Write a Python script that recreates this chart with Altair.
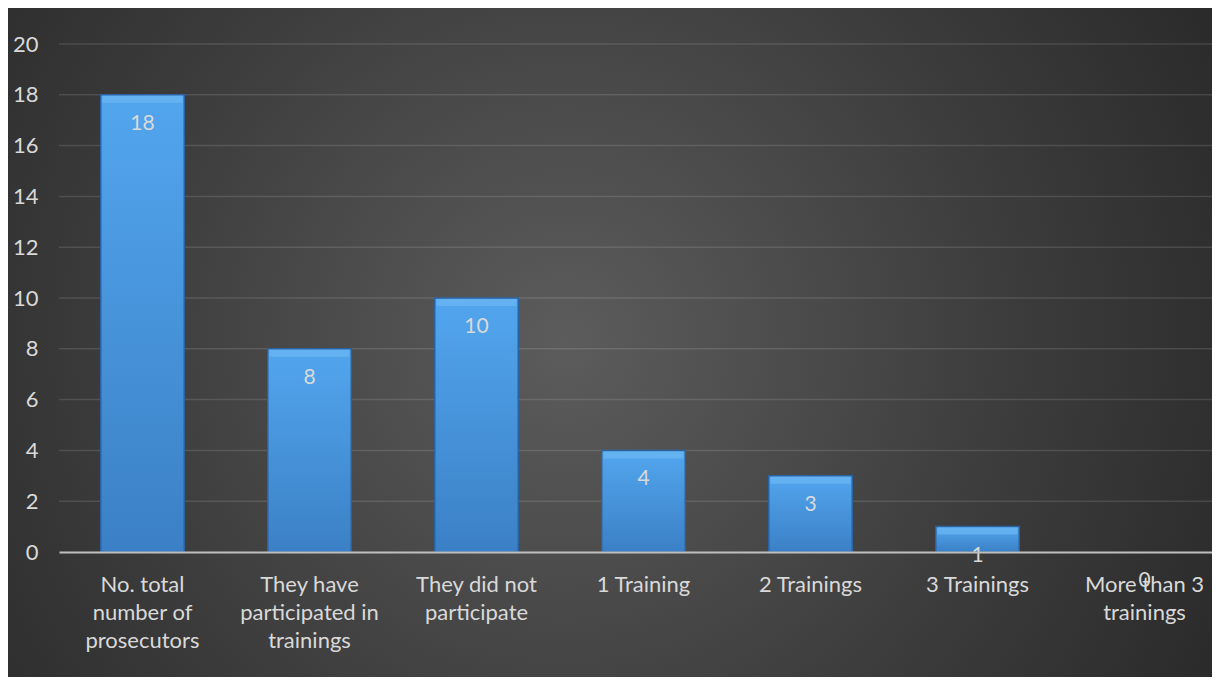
import json
import altair as alt
import pandas as pd

categories = [
    "No. total number of prosecutors",
    "They have participated in trainings",
    "They did not participate",
    "1 Training",
    "2 Trainings",
    "3 Trainings",
    "More than 3 trainings",
]
label_lines = [
    ["No. total", "number of", "prosecutors"],
    ["They have", "participated in", "trainings"],
    ["They did not", "participate"],
    ["1 Training"],
    ["2 Trainings"],
    ["3 Trainings"],
    ["More than 3", "trainings"],
]
values = [18, 8, 10, 4, 3, 1, 0]
y_ticks = [0, 2, 4, 6, 8, 10, 12, 14, 16, 18, 20]

W, H = 1169, 508
PAD = {"left": 51, "top": 36, "right": -16, "bottom": 125}
FONT = "Lato"
TXT = "#d9d9d9"

df = pd.DataFrame({"cat": categories, "value": values})
grid_df = pd.DataFrame({"t": [t for t in y_ticks if t > 0]})

label_expr = (
    json.dumps(label_lines) + "[indexof(" + json.dumps(categories) + ", datum.label)]"
)

yscale = alt.Scale(domain=[0, 20], nice=False, zero=True)
xscale = alt.Scale(paddingInner=0.5, paddingOuter=0.25)

x_enc = alt.X(
    "cat:N",
    sort=categories,
    scale=xscale,
    axis=alt.Axis(
        title=None,
        labelAngle=0,
        labelFont=FONT,
        labelFontSize=22,
        labelColor=TXT,
        labelPadding=22,
        labelBaseline="top",
        labelLineHeight=28,
        labelLimit=0,
        ticks=False,
        domainColor="#bfbfbf",
        domainWidth=2,
        grid=False,
        labelExpr=label_expr,
        zindex=1,
    ),
)

y_enc = alt.Y(
    "value:Q",
    scale=yscale,
    axis=alt.Axis(
        title=None,
        values=y_ticks,
        labelFont=FONT,
        labelFontSize=22,
        labelColor=TXT,
        labelPadding=21,
        ticks=False,
        domain=False,
        grid=False,
        zindex=1,
    ),
)

background = alt.Chart(alt.Data(values=[{}])).mark_rect(
    fill=alt.Gradient(
        gradient="radial",
        x1=0.45, y1=0.5, r1=0,
        x2=0.45, y2=0.5, r2=0.72,
        stops=[
            alt.GradientStop(offset=0, color="#5c5c5c"),
            alt.GradientStop(offset=0.5, color="#3c3c3c"),
            alt.GradientStop(offset=1, color="#202020"),
        ],
    ),
    clip=False,
).encode(
    x=alt.value(-PAD["left"]),
    x2=alt.value(W + 20),
    y=alt.value(-PAD["top"]),
    y2=alt.value(H + PAD["bottom"]),
)

grid = alt.Chart(grid_df).mark_rule(
    color="#ffffff", opacity=0.12, strokeWidth=1.5
).encode(y=alt.Y("t:Q", scale=yscale))

base = alt.Chart(df)

bars = base.transform_filter("datum.value > 0").mark_bar(
    fill=alt.Gradient(
        gradient="linear",
        x1=0, x2=0, y1=0, y2=1,
        stops=[
            alt.GradientStop(offset=0, color="#52a6ee"),
            alt.GradientStop(offset=1, color="#3b80c6"),
        ],
    ),
    stroke="#2b63a0",
    strokeWidth=1.5,
).encode(x=x_enc, y=y_enc)

bevel = base.transform_filter("datum.value > 0").mark_tick(
    orient="horizontal", size=80, thickness=7, yOffset=4.5, color="#6cb8f4"
).encode(x=alt.X("cat:N", sort=categories, scale=xscale), y=alt.Y("value:Q", scale=yscale))

labels = base.mark_text(
    font=FONT, fontSize=21, color=TXT, baseline="middle", align="center", dy=29
).encode(
    x=alt.X("cat:N", sort=categories, scale=xscale),
    y=alt.Y("value:Q", scale=yscale),
    text=alt.Text("value:Q"),
)

chart = (
    alt.layer(background, grid, bars, bevel, labels)
    .properties(
        width=W,
        height=H,
        padding=PAD,
        autosize=alt.AutoSizeParams(type="none"),
        background="#2a2a2a",
    )
    .configure_view(stroke=None)
)

chart.save("out.html", embed_options={"renderer": "svg", "actions": False})
